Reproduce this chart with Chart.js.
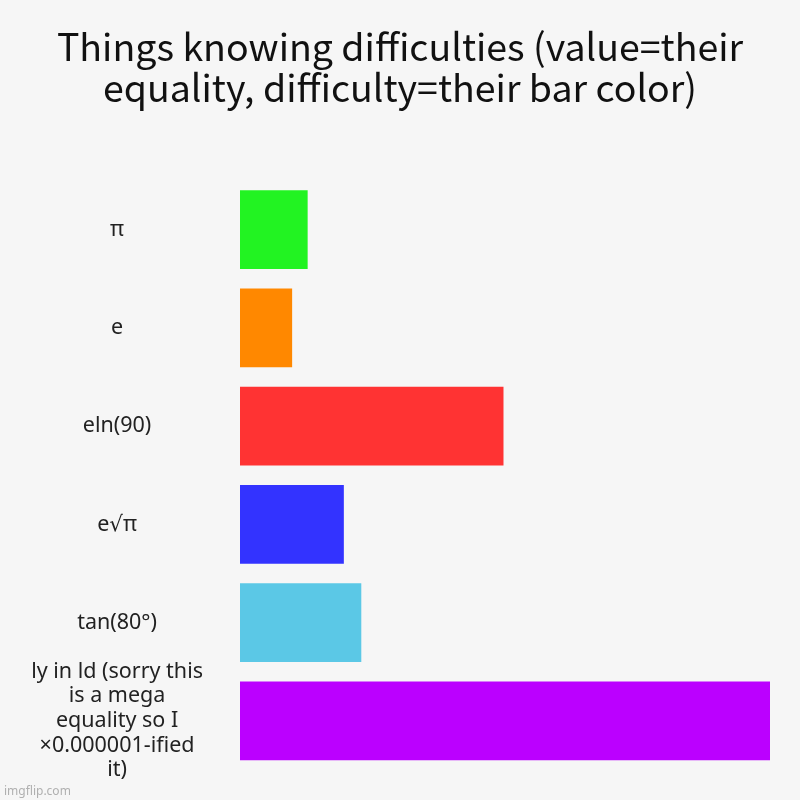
<!DOCTYPE html>
<html>
<head>
<meta charset="utf-8">
<script src="https://cdn.jsdelivr.net/npm/chart.js@4"></script>
<style>
  html, body { margin: 0; padding: 0; background: #f6f6f6; }
  #wrap { width: 800px; height: 800px; }
</style>
</head>
<body>
<div id="wrap"><canvas id="chart" width="800" height="800"></canvas></div>
<script>
const labels = [
  "π",
  "e",
  "eln(90)",
  "e√π",
  "tan(80°)",
  ["ly in ld (sorry this", "is a mega", "equality so I", "×0.000001-ified", "it)"]
];
const values = [3.14, 2.42, 12.23, 4.82, 5.63, 24.6];
const barColors = ["#22f322", "#ff8800", "#ff3333", "#3333ff", "#5bc8e6", "#bb00ff"];
const titleLines = ["Things knowing difficulties (value=their", "equality, difficulty=their bar color)"];

const FONT = "'Noto Sans CJK SC', 'Noto Sans', sans-serif";
const LABEL_FONT = "'Noto Sans', 'DejaVu Sans', sans-serif";

const watermark = {
  id: "watermark",
  afterDraw(chart) {
    const ctx = chart.ctx;
    ctx.save();
    ctx.font = "12px " + LABEL_FONT;
    ctx.fillStyle = "#b0b0b0";
    ctx.textBaseline = "alphabetic";
    ctx.fillText("imgflip.com", 4, 795);
    ctx.restore();
  }
};

const bg = {
  id: "bg",
  beforeDraw(chart) {
    const ctx = chart.ctx;
    ctx.save();
    ctx.fillStyle = "#f6f6f6";
    ctx.fillRect(0, 0, chart.width, chart.height);
    ctx.restore();
  }
};

new Chart(document.getElementById("chart"), {
  type: "bar",
  data: {
    labels: labels,
    datasets: [{
      data: values,
      backgroundColor: barColors,
      barPercentage: 0.8,
      categoryPercentage: 1.0
    }]
  },
  plugins: [bg, watermark],
  options: {
    indexAxis: "y",
    responsive: false,
    animation: false,
    layout: { padding: { left: 0, right: 0, top: 0, bottom: 30 } },
    plugins: {
      legend: { display: false },
      tooltip: { enabled: false },
      title: {
        display: true,
        text: titleLines,
        color: "#111",
        font: { family: FONT, size: 37.5, weight: "normal", lineHeight: 1.1 },
        padding: { top: 26, bottom: 72 }
      }
    },
    scales: {
      x: {
        display: false,
        min: 0,
        max: Math.max(...values)
      },
      y: {
        grid: { display: false, drawTicks: false },
        border: { display: false },
        afterFit(scale) {
          scale.width = 240;
          scale.paddingTop = 0;
          scale.paddingBottom = 0;
        },
        ticks: {
          autoSkip: false,
          crossAlign: "center",
          padding: 37,
          color: "#222",
          font: { family: LABEL_FONT, size: 21.5, lineHeight: 1.14 }
        }
      },
      // empty spacer on the right so the title stays centred on the canvas
      yRight: {
        type: "category",
        position: "right",
        grid: { display: false, drawTicks: false },
        border: { display: false },
        ticks: { display: false },
        afterFit(scale) {
          scale.width = 30;
          scale.paddingTop = 0;
          scale.paddingBottom = 0;
        }
      }
    }
  }
});
</script>
</body>
</html>
